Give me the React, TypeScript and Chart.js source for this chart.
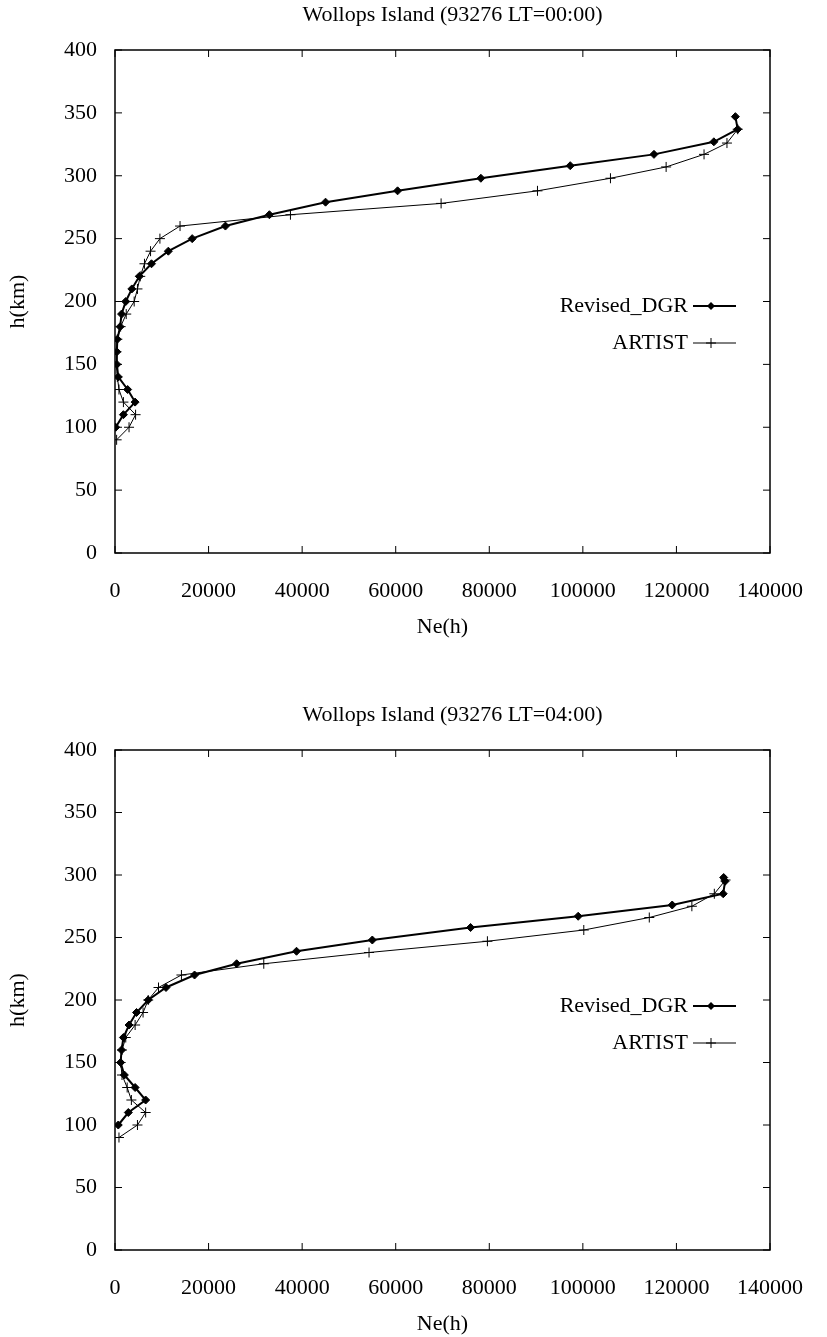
import React, { useEffect, useRef } from "react";
import { Chart, registerables } from "chart.js";

Chart.register(...registerables);

const FONT = "'Liberation Serif', 'Times New Roman', Times, serif";

// Tick labels
const xTickValues = [0, 20000, 40000, 60000, 80000, 100000, 120000, 140000];
const yTickValues = [0, 50, 100, 150, 200, 250, 300, 350, 400];

const seriesNames = ["Revised_DGR", "ARTIST"];
const xAxisTitle = "Ne(h)";
const yAxisTitle = "h(km)";

// Chart 1: LT=00:00
const title1 = "Wollops Island (93276 LT=00:00)";
const dgrH1 = [100, 110, 120, 130, 140, 150, 160, 170, 180, 190, 200, 210, 220, 230, 240, 250, 260, 269, 279, 288, 298, 308, 317, 327, 337, 347];
const dgrNe1 = [150, 1800, 4300, 2700, 700, 400, 400, 500, 1100, 1400, 2300, 3600, 5200, 7800, 11400, 16500, 23600, 33000, 45000, 60400, 78200, 97300, 115200, 128000, 133100, 132600];
const artH1 = [90, 100, 110, 120, 130, 140, 150, 160, 170, 180, 190, 200, 210, 220, 230, 240, 250, 260, 269, 278, 288, 298, 307, 317, 326, 337];
const artNe1 = [350, 3000, 4400, 1800, 850, 500, 300, 300, 500, 1200, 2400, 4100, 4800, 5400, 6300, 7600, 9600, 13900, 37500, 69700, 90300, 105900, 117800, 125900, 130800, 133100];

// Chart 2: LT=04:00
const title2 = "Wollops Island (93276 LT=04:00)";
const dgrH2 = [100, 110, 120, 130, 140, 150, 160, 170, 180, 190, 200, 210, 220, 229, 239, 248, 258, 267, 276, 285, 295, 298];
const dgrNe2 = [700, 2850, 6550, 4300, 2000, 1200, 1400, 1800, 3000, 4600, 7100, 10900, 17000, 26000, 38800, 55000, 76000, 99000, 119100, 130000, 130400, 130100];
const artH2 = [90, 100, 110, 120, 130, 140, 150, 160, 170, 180, 190, 200, 210, 220, 229, 238, 247, 256, 266, 275, 285, 296];
const artNe2 = [850, 4800, 6550, 3500, 2600, 1500, 1200, 1500, 2300, 4300, 6000, 7100, 9300, 14200, 31800, 54300, 79600, 100200, 114200, 123300, 128100, 130500];

function toPoints(ne: number[], h: number[]) {
  return ne.map((x, i) => ({ x, y: h[i] }));
}

const framePlugin = {
  id: "frameTicks",
  beforeDatasetsDraw(chart: any) {
    const { ctx, chartArea: a, scales } = chart;
    ctx.save();
    ctx.strokeStyle = "#000";
    ctx.lineWidth = 1.5;
    ctx.strokeRect(a.left, a.top, a.right - a.left, a.bottom - a.top);
    ctx.lineWidth = 1;
    const L = 7;
    ctx.beginPath();
    scales.x.ticks.forEach((t: any) => {
      const px = scales.x.getPixelForValue(t.value);
      ctx.moveTo(px, a.bottom);
      ctx.lineTo(px, a.bottom - L);
      ctx.moveTo(px, a.top);
      ctx.lineTo(px, a.top + L);
    });
    scales.y.ticks.forEach((t: any) => {
      const py = scales.y.getPixelForValue(t.value);
      ctx.moveTo(a.left, py);
      ctx.lineTo(a.left + L, py);
      ctx.moveTo(a.right, py);
      ctx.lineTo(a.right - L, py);
    });
    ctx.stroke();
    ctx.restore();
  },
};

const titlePlugin = {
  id: "offsetTitle",
  afterDraw(chart: any, _args: any, opts: any) {
    const { ctx, chartArea: a } = chart;
    ctx.save();
    ctx.font = `22px ${FONT}`;
    ctx.textAlign = "center";
    ctx.textBaseline = "middle";
    ctx.fillStyle = "#000";
    ctx.fillText(opts.text, (a.left + a.right) / 2 + 10, a.top - 35);
    ctx.restore();
  },
};

const legendPlugin = {
  id: "inlineLegend",
  afterDraw(chart: any) {
    const { ctx, chartArea: a } = chart;
    ctx.save();
    chart.data.datasets.forEach((ds: any, i: number) => {
      const y = a.top + 256 + i * 37;
      const x1 = a.right - 77;
      const x2 = a.right - 34;
      const tx = a.right - 82;
      ctx.font = `22px ${FONT}`;
      ctx.textAlign = "right";
      ctx.textBaseline = "middle";
      ctx.fillStyle = "#000";
      ctx.fillText(ds.label, tx, y);
      ctx.strokeStyle = "#000";
      ctx.lineWidth = ds.borderWidth;
      ctx.beginPath();
      ctx.moveTo(x1, y);
      ctx.lineTo(x2, y);
      ctx.stroke();
      const mx = x1 + 18;
      ctx.lineWidth = 1;
      if (ds.pointStyle === "rectRot") {
        const r = ds.pointRadius;
        ctx.beginPath();
        ctx.moveTo(mx, y - r);
        ctx.lineTo(mx + r, y);
        ctx.lineTo(mx, y + r);
        ctx.lineTo(mx - r, y);
        ctx.closePath();
        ctx.fill();
      } else {
        const r = ds.pointRadius;
        ctx.beginPath();
        ctx.moveTo(mx - r, y);
        ctx.lineTo(mx + r, y);
        ctx.moveTo(mx, y - r);
        ctx.lineTo(mx, y + r);
        ctx.stroke();
      }
    });
    ctx.restore();
  },
};

type Props = {
  title: string;
  dgrNe: number[];
  dgrH: number[];
  artNe: number[];
  artH: number[];
  top: number;
  height: number;
  padBottom: number;
};

function ProfileChart({ title, dgrNe, dgrH, artNe, artH, top, height, padBottom }: Props) {
  const ref = useRef<HTMLCanvasElement>(null);
  useEffect(() => {
    if (!ref.current) return;
    const font = { family: FONT, size: 22 };
    const chart = new Chart(ref.current, {
      type: "scatter",
      data: {
        datasets: [
          {
            label: seriesNames[0],
            data: toPoints(dgrNe, dgrH),
            showLine: true,
            borderColor: "#000",
            backgroundColor: "#000",
            borderWidth: 2,
            pointStyle: "rectRot",
            pointRadius: 4,
            pointBorderWidth: 1,
          } as any,
          {
            label: seriesNames[1],
            data: toPoints(artNe, artH),
            showLine: true,
            borderColor: "#000",
            backgroundColor: "#000",
            borderWidth: 1,
            pointStyle: "cross",
            pointRadius: 5,
            pointBorderWidth: 1,
          } as any,
        ],
      },
      options: {
        responsive: false,
        animation: false,
        layout: { padding: { left: 0, right: 57, top: 50, bottom: padBottom } },
        plugins: {
          legend: { display: false },
          tooltip: { enabled: false },
          title: { display: false },
          offsetTitle: { text: title },
        },
        scales: {
          x: {
            type: "linear",
            min: 0,
            max: 140000,
            afterBuildTicks: (s: any) => {
              s.ticks = xTickValues.map((v) => ({ value: v }));
            },
            afterFit: (s: any) => {
              s.height = 87;
            },
            ticks: {
              color: "#000",
              font,
              padding: 17,
              maxRotation: 0,
              autoSkip: false,
              callback: (v: any) => String(v),
            },
            grid: { display: false },
            border: { display: false },
            title: { display: true, text: xAxisTitle, color: "#000", font, padding: { top: 0, bottom: 0 } },
          },
          y: {
            type: "linear",
            min: 0,
            max: 400,
            afterBuildTicks: (s: any) => {
              s.ticks = yTickValues.map((v) => ({ value: v }));
            },
            afterFit: (s: any) => {
              s.width = 115;
            },
            ticks: {
              color: "#000",
              font,
              padding: 10,
              autoSkip: false,
              callback: (v: any) => String(v),
            },
            grid: { display: false },
            border: { display: false },
            title: { display: true, text: yAxisTitle, color: "#000", font, padding: { top: 5, bottom: 0 } },
          },
        },
      } as any,
      plugins: [framePlugin, legendPlugin, titlePlugin],
    });
    return () => chart.destroy();
  }, []);
  return (
    <canvas
      ref={ref}
      width={827}
      height={height}
      style={{ position: "absolute", left: 0, top, display: "block" }}
    />
  );
}

export default function App() {
  return (
    <div style={{ position: "absolute", left: 0, top: 0, width: 827, height: 1337, background: "#fff" }}>
      <ProfileChart title={title1} dgrNe={dgrNe1} dgrH={dgrH1} artNe={artNe1} artH={artH1} top={0} height={660} padBottom={20} />
      <ProfileChart title={title2} dgrNe={dgrNe2} dgrH={dgrH2} artNe={artNe2} artH={artH2} top={700} height={637} padBottom={0} />
    </div>
  );
}
